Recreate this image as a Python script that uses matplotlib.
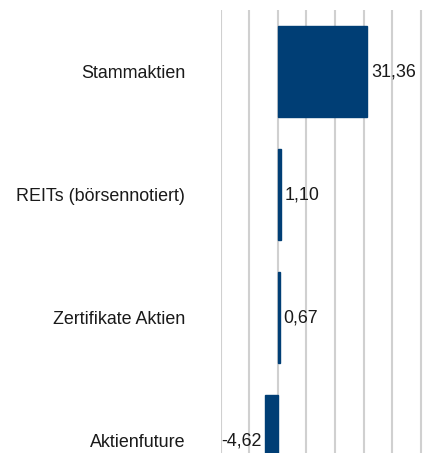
import matplotlib.pyplot as plt

categories = ["Stammaktien", "REITs (börsennotiert)", "Zertifikate Aktien", "Aktienfuture"]
values = [31.36, 1.10, 0.67, -4.62]
grid_ticks = [-20, -10, 0, 10, 20, 30, 40, 50]

plt.rcParams["font.family"] = ["Liberation Sans", "DejaVu Sans"]

fig = plt.figure(figsize=(4.31, 4.53), dpi=100)
ax = fig.add_axes([220.7 / 431, 0.0, 1 - 220.7 / 431, 1 - 10 / 453])

pos = list(range(len(categories)))
ax.barh(pos, values, height=0.74, color="#003e75", edgecolor="#003e75",
        linewidth=1.0, zorder=2)

for p, v in zip(pos, values):
    txt = f"{v:.2f}".replace(".", ",")
    if v >= 0:
        ax.annotate(txt, (v, p), xytext=(2.5, 0), textcoords="offset points",
                    ha="left", va="center", fontsize=12.9, color="#1a1a1a")
    else:
        ax.annotate(txt, (v, p), xytext=(-2.5, 0), textcoords="offset points",
                    ha="right", va="center", fontsize=12.9, color="#1a1a1a")

ax.set_xlim(-20, 53.6)
ax.set_ylim(3.10, -0.5)
ax.set_xticks(grid_ticks)
ax.set_xticklabels([])
ax.set_yticks(pos)
ax.set_yticklabels(categories, fontsize=12.9, color="#1a1a1a")
ax.tick_params(axis="both", length=0)
ax.tick_params(axis="y", pad=25.5)
ax.grid(axis="x", color="#d0d0d0", linewidth=1.5, zorder=0)
ax.set_axisbelow(True)
for s in ax.spines.values():
    s.set_visible(False)

fig.savefig("out.png", dpi=100)
